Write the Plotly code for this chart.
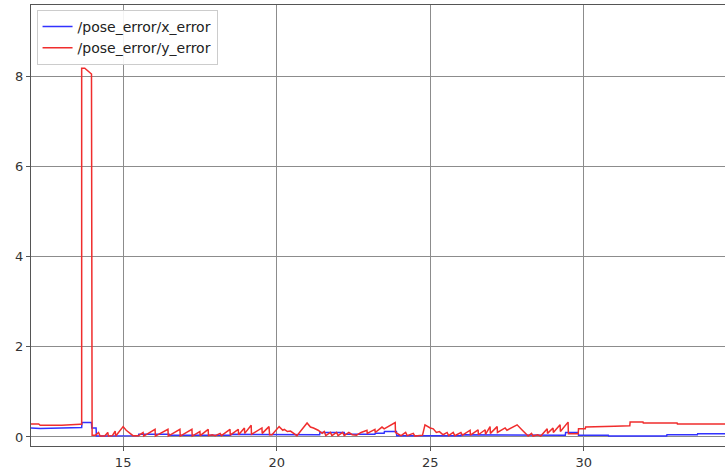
import plotly.graph_objects as go

# Time (s) and values
x_error_t = [12.0, 12.3, 13.0, 13.65, 13.66, 13.97, 13.98, 14.12, 14.13, 15.0, 15.5, 15.51, 16.5, 16.51,
             18.5, 18.51, 20.5, 20.51, 21.4, 21.41, 22.2, 22.21, 23.2, 23.21, 23.5, 23.51, 23.9, 23.91,
             26.0, 26.01, 27.0, 27.01, 29.4, 29.41, 29.82, 29.83, 30.8, 30.81, 32.7, 32.71, 33.7, 33.71, 34.6]
x_error_v = [0.2, 0.19, 0.2, 0.21, 0.32, 0.32, 0.2, 0.2, 0.02, 0.03, 0.03, 0.06, 0.06, 0.04,
             0.04, 0.06, 0.06, 0.05, 0.05, 0.1, 0.1, 0.06, 0.06, 0.08, 0.08, 0.12, 0.12, 0.03,
             0.03, 0.05, 0.05, 0.04, 0.04, 0.1, 0.1, 0.04, 0.04, 0.02, 0.02, 0.05, 0.05, 0.07, 0.07]

y_error_t = [12.0, 12.25, 12.3, 13.0, 13.6, 13.65, 13.65, 13.75, 13.97, 13.99, 14.1, 14.2, 14.25, 14.4,
             14.5, 14.52, 14.65, 14.74, 14.76, 15.0, 15.1, 15.15, 15.2, 15.25, 15.32, 15.5, 15.65, 15.67,
             16.04, 16.05, 16.46, 16.47, 16.85, 16.86, 17.24, 17.25, 17.5, 17.51, 17.77, 17.78, 17.9, 18.0,
             18.16, 18.2, 18.48, 18.49, 18.75, 18.76, 18.95, 18.96, 19.17, 19.18, 19.52, 19.53, 19.75, 19.77,
             19.85, 20.08, 20.2, 20.25, 20.35, 20.45, 20.55, 20.66, 20.99, 21.1, 21.2, 21.35, 21.48, 21.55,
             21.6, 21.75, 21.8, 21.95, 22.0, 22.15, 22.2, 22.35, 22.46, 22.6, 22.75, 22.94, 22.95, 23.2,
             23.21, 23.43, 23.5, 23.86, 23.87, 24.05, 24.2, 24.25, 24.45, 24.5, 24.75, 24.83, 25.0, 25.1,
             25.2, 25.3, 25.42, 25.55, 25.6, 25.75, 25.8, 26.0, 26.05, 26.3, 26.31, 26.56, 26.57, 26.79,
             26.8, 26.95, 26.96, 27.18, 27.19, 27.44, 27.5, 27.83, 28.0, 28.19, 28.3, 28.35, 28.5, 28.6,
             28.81, 28.82, 29.0, 29.01, 29.23, 29.24, 29.49, 29.5, 29.82, 29.83, 30.05, 30.06, 31.0, 31.5,
             31.51, 31.93, 31.94, 33.04, 33.05, 34.6]
y_error_v = [0.29, 0.29, 0.26, 0.26, 0.28, 0.28, 8.18, 8.18, 8.05, 0.04, 0.04, 0.1, 0.02, 0.02,
             0.1, 0.02, 0.03, 0.13, 0.02, 0.23, 0.15, 0.12, 0.1, 0.07, 0.03, 0.03, 0.1, 0.02,
             0.17, 0.02, 0.17, 0.02, 0.17, 0.02, 0.17, 0.02, 0.12, 0.03, 0.17, 0.03, 0.05, 0.03,
             0.08, 0.03, 0.17, 0.04, 0.17, 0.05, 0.2, 0.08, 0.26, 0.06, 0.2, 0.08, 0.23, 0.05,
             0.05, 0.23, 0.15, 0.17, 0.12, 0.13, 0.08, 0.03, 0.31, 0.22, 0.2, 0.15, 0.08, 0.12,
             0.03, 0.1, 0.03, 0.1, 0.03, 0.1, 0.03, 0.1, 0.05, 0.04, 0.1, 0.15, 0.08, 0.17,
             0.1, 0.22, 0.18, 0.32, 0.1, 0.03, 0.1, 0.03, 0.08, 0.02, 0.04, 0.27, 0.2, 0.18,
             0.1, 0.12, 0.05, 0.1, 0.03, 0.1, 0.03, 0.1, 0.04, 0.15, 0.04, 0.16, 0.05, 0.16,
             0.06, 0.23, 0.08, 0.23, 0.1, 0.2, 0.15, 0.27, 0.15, 0.02, 0.08, 0.02, 0.05, 0.02,
             0.18, 0.08, 0.2, 0.1, 0.27, 0.12, 0.33, 0.07, 0.07, 0.18, 0.18, 0.22, 0.24, 0.25,
             0.33, 0.33, 0.31, 0.31, 0.29, 0.29]

x_ticks = [15, 20, 25, 30]
y_ticks = [0, 2, 4, 6, 8]

fig = go.Figure()
fig.add_trace(go.Scatter(x=x_error_t, y=x_error_v, mode="lines", name="/pose_error/x_error",
                         line=dict(color="rgb(50,50,255)", width=1.5)))
fig.add_trace(go.Scatter(x=y_error_t, y=y_error_v, mode="lines", name="/pose_error/y_error",
                         line=dict(color="rgb(240,45,45)", width=1.5)))

fig.update_layout(
    width=725, height=472,
    margin=dict(l=31, r=0, t=5, b=26, autoexpand=False),
    paper_bgcolor="white", plot_bgcolor="white",
    font=dict(family="DejaVu Sans", size=13, color="#333333"),
    showlegend=True,
    legend=dict(x=0.008, y=0.989, xanchor="left", yanchor="top",
                bgcolor="rgba(255,255,255,0.9)", bordercolor="#cccccc", borderwidth=1,
                font=dict(size=14, color="#222222"), tracegroupgap=2),
    xaxis=dict(range=[12.0, 34.6], tickvals=x_ticks, showgrid=True, gridcolor="#8c8c8c", gridwidth=1,
               zeroline=False, showline=True, linecolor="#555555", linewidth=1.3, mirror=True,
               ticks="outside", ticklen=4, tickcolor="#555555", automargin=False),
    yaxis=dict(range=[-0.2, 9.58], tickvals=y_ticks, showgrid=True, gridcolor="#8c8c8c", gridwidth=1,
               zeroline=False, showline=True, linecolor="#555555", linewidth=1.3, mirror=False,
               ticks="outside", ticklen=4, tickcolor="#555555", automargin=False),
)

fig.write_html("out.html", config={"displayModeBar": False},
               post_script="document.body.style.margin='0';document.body.style.padding='0';")
